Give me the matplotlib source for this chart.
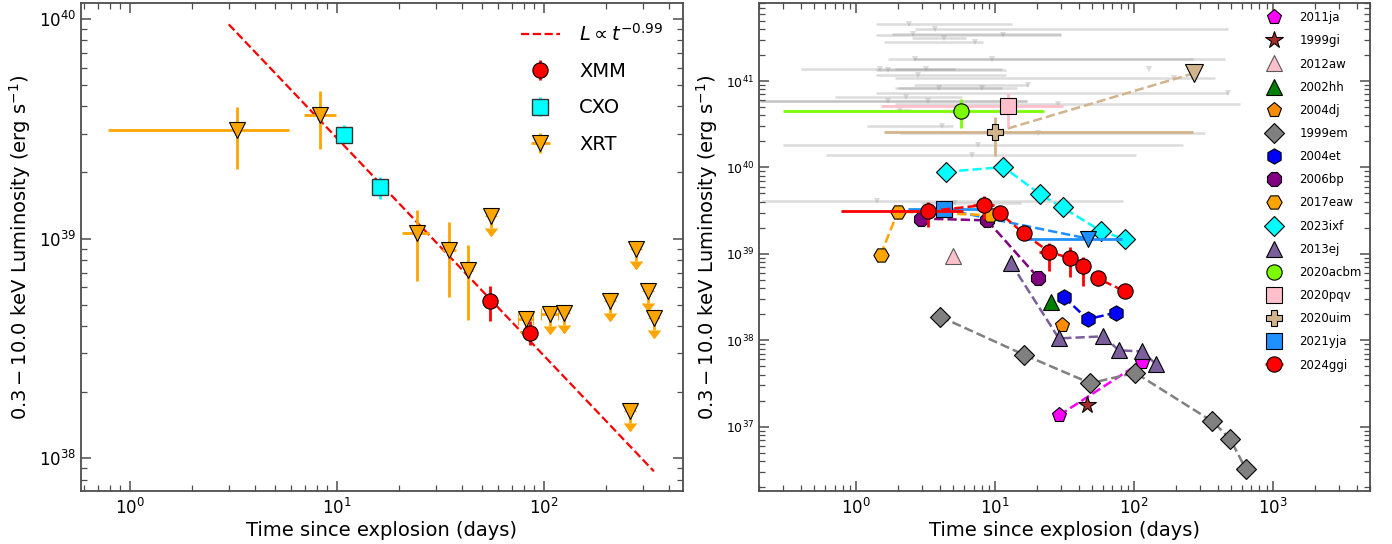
import numpy as np
import matplotlib
matplotlib.use('Agg')
import matplotlib.pyplot as plt
from matplotlib.lines import Line2D

# SN 2024ggi, Swift/XRT detections
xrt_t = [3.29, 8.28, 24.4, 34.8, 43.0]
xrt_tlo = [0.78, 6.93, 20.6, 32.2, 41.1]
xrt_thi = [5.87, 9.89, 27.8, 37.6, 45.4]
xrt_L = [3.12e39, 3.66e39, 1.06e39, 8.87e38, 7.2e38]
xrt_Llo = [2.07e39, 2.56e39, 6.4e38, 5.4e38, 4.25e38]
xrt_Lhi = [3.97e39, 4.70e39, 1.35e39, 1.19e39, 9.3e38]

# Swift/XRT upper limits
xul_t = [55.5, 81.8, 107, 125, 208, 278, 318, 340, 260]
xul_tlo = [55.5, 74.9, 96.7, 125, 208, 278, 318, 340, 260]
xul_thi = [55.5, 88.5, 117, 125, 208, 278, 318, 340, 260]
xul_L = [1.27e39, 4.3e38, 4.53e38, 4.6e38, 5.19e38, 8.96e38, 5.8e38, 4.35e38, 1.64e38]

# Chandra
cxo_t = [10.8, 16.1]
cxo_L = [2.97e39, 1.72e39]
cxo_Llo = [2.72e39, 1.52e39]
cxo_Lhi = [3.29e39, 1.90e39]

# XMM-Newton
xmm_t = [54.8, 85.5]
xmm_L = [5.2e38, 3.7e38]
xmm_Llo = [4.2e38, 3.27e38]
xmm_Lhi = [6.08e38, 4.2e38]

# power law fit L ~ t^-0.99
fit_norm = 2.8e40
fit_index = -0.99
fit_t = [3.0, 340.0]

# comparison SNe (right panel)
t_2011ja = [28.9, 114]
L_2011ja = [1.35e37, 5.64e37]
t_1999gi = [46.1]
L_1999gi = [1.78e37]
t_2012aw = [4.99]
L_2012aw = [9.4e38]
t_2002hh = [25.1]
L_2002hh = [2.76e38]
t_2004dj = [30.1]
L_2004dj = [1.51e38]
t_1999em = [4.04, 16.2, 48.5, 102, 367, 492, 636]
L_1999em = [1.87e38, 6.78e37, 3.18e37, 4.2e37, 1.15e37, 7.24e36, 3.27e36]
t_2004et = [31.3, 46.4, 74.1]
L_2004et = [3.17e38, 1.75e38, 2.09e38]
t_2006bp = [2.93, 8.77, 20.5]
L_2006bp = [2.56e39, 2.44e39, 5.27e38]
t_2017eaw = [1.50, 2.0, 9.16]
L_2017eaw = [9.7e38, 3.08e39, 2.8e39]
t_2023ixf = [4.44, 11.5, 21.2, 30.6, 58.2, 86.4]
L_2023ixf = [8.9e39, 1.01e40, 4.88e39, 3.44e39, 1.83e39, 1.47e39]
t_2013ej = [13.0, 28.8, 59.9, 78, 114, 145]
L_2013ej = [7.83e38, 1.05e38, 1.11e38, 7.64e37, 7.43e37, 5.24e37]

t_2020acbm, tlo_2020acbm, thi_2020acbm = 5.66, 0.30, 22.5
L_2020acbm, Llo_2020acbm, Lhi_2020acbm = 4.54e40, 2.84e40, 6.14e40
t_2020pqv, tlo_2020pqv, thi_2020pqv = 12.5, 1.51, 31.0
L_2020pqv, Llo_2020pqv, Lhi_2020pqv = 5.14e40, 2.97e40, 7.3e40
t_2020uim, tlo_2020uim, thi_2020uim = 10.0, 1.59, 264
L_2020uim, Llo_2020uim, Lhi_2020uim = 2.55e40, 1.35e40, 3.8e40
tul_2020uim, Lul_2020uim = 270, 1.23e41
t_2021yja, tlo_2021yja, thi_2021yja = 4.31, 2.37, 9.06
L_2021yja = 3.28e39
tul_2021yja, tlo_ul_2021yja, thi_ul_2021yja = 46.8, 16.4, 82
Lul_2021yja = 1.5e39

# other upper limits (grey)
grey_t = [2.39, 3.68, 2.58, 11.5, 4.30, 7.14, 2.67, 9.57, 1.49, 1.69, 3.17, 129, 2.79, 195,
          17.3, 3.98, 8.02, 478, 2.28, 1.69, 3.28, 28.6, 2.08, 4.18, 20.3, 7.59, 6.87, 1.41, 5.15]
grey_L = [4.56e41, 3.96e41, 3.49e41, 3.37e41, 3.17e41, 2.82e41, 1.78e41, 1.78e41, 1.38e41, 1.34e41,
          1.38e41, 1.38e41, 1.16e41, 1.09e41, 9.0e40, 8.2e40, 8.2e40, 7.3e40, 6.6e40, 5.93e40,
          5.93e40, 5.42e40, 4.62e40, 3.02e40, 2.53e40, 1.82e40, 1.41e40, 4.13e39, 3.83e39]
grey_tlo = [1.39, 2.66, 1.81, 1.39, 2.51, 1.59, 1.71, 2.61, 0.40, 1.39, 1.91, 129, 1.39, 1.91,
            2.61, 1.91, 2.0, 1.39, 0.706, 0.204, 0.204, 1.91, 1.91, 1.19, 2.08, 0.30, 0.605, 0.21, 2.93]
grey_thi = [13.3, 478, 29.7, 29.7, 6.18, 8.15, 264, 452, 11.2, 12.0, 5.15, 129, 12.0, 383,
            17.3, 11.2, 14.3, 478, 5.82, 16.9, 16.9, 579, 2.5, 5.0, 324, 226, 103, 84, 15.4]

ylab = r'$0.3-10.0$ keV Luminosity (erg s$^{-1}$)'


def style_axes(ax, ysize):
    ax.set_xscale('log')
    ax.set_yscale('log')
    ax.tick_params(which='both', direction='in', top=True, right=True, color='0.3')
    ax.tick_params(which='major', length=7, width=1.1)
    ax.tick_params(which='minor', length=4, width=0.9)
    ax.tick_params(axis='x', labelsize=12, pad=5)
    ax.tick_params(axis='y', labelsize=ysize)
    for s in ax.spines.values():
        s.set_color('0.3')
        s.set_linewidth(1.3)
    ax.set_xlabel('Time since explosion (days)', fontsize=14, labelpad=2)
    ax.set_ylabel(ylab, fontsize=14)


def errs(v, lo, hi):
    v = np.asarray(v, dtype=float)
    return [v - np.asarray(lo, dtype=float), np.asarray(hi, dtype=float) - v]


fig = plt.figure(figsize=(13.92, 5.44), dpi=100)
ax1 = fig.add_axes([81 / 1392, 53 / 544, 602 / 1392, 488 / 544])
ax2 = fig.add_axes([759 / 1392, 53 / 544, 611 / 1392, 488 / 544])

# ---------------- left panel ----------------
tt = np.array(fit_t)
ax1.plot(tt, fit_norm * tt ** fit_index, '--', color='red', lw=1.6, zorder=1,
         label=r'$L \propto t^{-0.99}$')

h_xmm = ax1.errorbar(xmm_t, xmm_L, yerr=errs(xmm_L, xmm_Llo, xmm_Lhi), fmt='o', color='red',
                     mec='black', mew=0.8, ms=11, elinewidth=2, zorder=4, label='XMM')
h_cxo = ax1.errorbar(cxo_t, cxo_L, yerr=errs(cxo_L, cxo_Llo, cxo_Lhi), fmt='s', color='cyan',
                     mec='0.2', mew=1, ms=11, elinewidth=2, zorder=4, label='CXO')
h_xrt = ax1.errorbar(xrt_t, xrt_L, xerr=errs(xrt_t, xrt_tlo, xrt_thi),
                     yerr=errs(xrt_L, xrt_Llo, xrt_Lhi), fmt='v', color='orange',
                     mec='black', mew=0.8, ms=11, elinewidth=2, zorder=3, label='XRT')
xul_L_arr = np.array(xul_L)
ax1.errorbar(xul_t, xul_L, xerr=errs(xul_t, xul_tlo, xul_thi), yerr=0.12 * xul_L_arr,
             uplims=True, fmt='v', color='orange', mec='black', mew=0.8, ms=11,
             elinewidth=2, capsize=4, zorder=3)

ax1.set_xlim(0.58, 470)
ax1.set_ylim(7.1e37, 1.18e40)
style_axes(ax1, 12)
ax1.legend(loc='upper right', frameon=False, fontsize=14, labelspacing=0.9,
           handlelength=2.0, handletextpad=1.0, borderaxespad=0.6)

# ---------------- right panel ----------------
ax2.errorbar(grey_t, grey_L, xerr=errs(grey_t, grey_tlo, grey_thi), fmt='v', color='0.55',
             ms=5, alpha=0.3, elinewidth=1.8, mew=0, zorder=1)

# bright upper limits / detections with long error bars
ax2.errorbar(t_2020acbm, L_2020acbm,
             xerr=[[t_2020acbm - tlo_2020acbm], [thi_2020acbm - t_2020acbm]],
             yerr=[[L_2020acbm - Llo_2020acbm], [Lhi_2020acbm - L_2020acbm]],
             fmt='o', color='lawngreen', mec='black', mew=0.8, ms=11, elinewidth=2, zorder=3)
ax2.errorbar(t_2020pqv, L_2020pqv,
             xerr=[[t_2020pqv - tlo_2020pqv], [thi_2020pqv - t_2020pqv]],
             yerr=[[L_2020pqv - Llo_2020pqv], [Lhi_2020pqv - L_2020pqv]],
             fmt='s', color='pink', mec='black', mew=0.8, ms=12, elinewidth=2, zorder=3)
ax2.errorbar(t_2020uim, L_2020uim,
             xerr=[[t_2020uim - tlo_2020uim], [thi_2020uim - t_2020uim]],
             yerr=[[L_2020uim - Llo_2020uim], [Lhi_2020uim - L_2020uim]],
             fmt='P', color='tan', mec='black', mew=0.8, ms=12, elinewidth=2, zorder=3)
ax2.plot([t_2020uim, tul_2020uim], [L_2020uim, Lul_2020uim], '--', color='tan', lw=1.8, zorder=2)
ax2.plot(tul_2020uim, Lul_2020uim, 'v', color='tan', mec='black', mew=0.8, ms=13, zorder=3)

ax2.errorbar(t_2021yja, L_2021yja, xerr=[[t_2021yja - tlo_2021yja], [thi_2021yja - t_2021yja]],
             fmt='s', color='dodgerblue', mec='black', mew=0.8, ms=11, elinewidth=2, zorder=4)
ax2.errorbar(tul_2021yja, Lul_2021yja,
             xerr=[[tul_2021yja - tlo_ul_2021yja], [thi_ul_2021yja - tul_2021yja]],
             fmt='v', color='dodgerblue', mec='black', mew=0.8, ms=12, elinewidth=2, zorder=4)
ax2.plot([t_2021yja, tul_2021yja], [L_2021yja, Lul_2021yja], '--', color='dodgerblue', lw=1.8, zorder=2)

# (label, t, L, marker, colour, size, edge, connect)
sne = [
    ('2011ja', t_2011ja, L_2011ja, 'p', 'magenta', 11, 'black', True),
    ('1999gi', t_1999gi, L_1999gi, '*', 'brown', 13, 'black', False),
    ('2012aw', t_2012aw, L_2012aw, '^', 'pink', 12, '0.35', False),
    ('2002hh', t_2002hh, L_2002hh, '^', 'green', 12, 'black', False),
    ('2004dj', t_2004dj, L_2004dj, 'p', 'darkorange', 11, 'black', False),
    ('1999em', t_1999em, L_1999em, 'D', 'gray', 10, 'black', True),
    ('2004et', t_2004et, L_2004et, 'h', 'blue', 11, 'black', True),
    ('2006bp', t_2006bp, L_2006bp, '8', 'purple', 11, 'black', True),
    ('2017eaw', t_2017eaw, L_2017eaw, 'H', 'orange', 11, 'black', True),
    ('2023ixf', t_2023ixf, L_2023ixf, 'D', 'cyan', 10, 'black', True),
    ('2013ej', t_2013ej, L_2013ej, '^', '#7a5f9c', 12, 'black', True),
]

handles = []
for name, t, L, m, c, s, ec, conn in sne:
    if conn:
        ax2.plot(t, L, '--', color=c, lw=1.8, zorder=2)
    ax2.plot(t, L, ls='none', marker=m, color=c, mec=ec, mew=0.8, ms=s, zorder=3)
    handles.append(Line2D([], [], ls='none', marker=m, color=c, mec=ec, mew=0.8, ms=s, label=name))

handles.append(Line2D([], [], ls='none', marker='o', color='lawngreen', mec='black', mew=0.8, ms=11, label='2020acbm'))
handles.append(Line2D([], [], ls='none', marker='s', color='pink', mec='black', mew=0.8, ms=12, label='2020pqv'))
handles.append(Line2D([], [], ls='none', marker='P', color='tan', mec='black', mew=0.8, ms=12, label='2020uim'))
handles.append(Line2D([], [], ls='none', marker='s', color='dodgerblue', mec='black', mew=0.8, ms=12, label='2021yja'))

# SN 2024ggi from all instruments
ggi_t = np.concatenate([xrt_t, cxo_t, xmm_t])
ggi_L = np.concatenate([xrt_L, cxo_L, xmm_L])
ggi_Llo = np.concatenate([xrt_Llo, cxo_Llo, xmm_Llo])
ggi_Lhi = np.concatenate([xrt_Lhi, cxo_Lhi, xmm_Lhi])
ggi_tlo = np.concatenate([xrt_tlo, cxo_t, xmm_t])
ggi_thi = np.concatenate([xrt_thi, cxo_t, xmm_t])
order = np.argsort(ggi_t)
ggi_t, ggi_L = ggi_t[order], ggi_L[order]
ggi_Llo, ggi_Lhi = ggi_Llo[order], ggi_Lhi[order]
ggi_tlo, ggi_thi = ggi_tlo[order], ggi_thi[order]
ax2.errorbar(ggi_t, ggi_L, xerr=errs(ggi_t, ggi_tlo, ggi_thi), yerr=errs(ggi_L, ggi_Llo, ggi_Lhi),
             fmt='none', ecolor='red', elinewidth=2, zorder=5)
h_ggi, = ax2.plot(ggi_t, ggi_L, 'o--', color='red', mec='black', mew=0.8, ms=11, lw=1.8,
                  zorder=6, label='2024ggi')
handles.append(h_ggi)

ax2.set_xlim(0.2, 5000)
ax2.set_ylim(1.8e36, 8e41)
style_axes(ax2, 9)
ax2.legend(handles=handles, loc='upper right', frameon=False, fontsize=8.5, labelspacing=0.86,
           handlelength=1.5, handletextpad=1.4, borderaxespad=0.3)

fig.savefig('out.png', dpi=100)
